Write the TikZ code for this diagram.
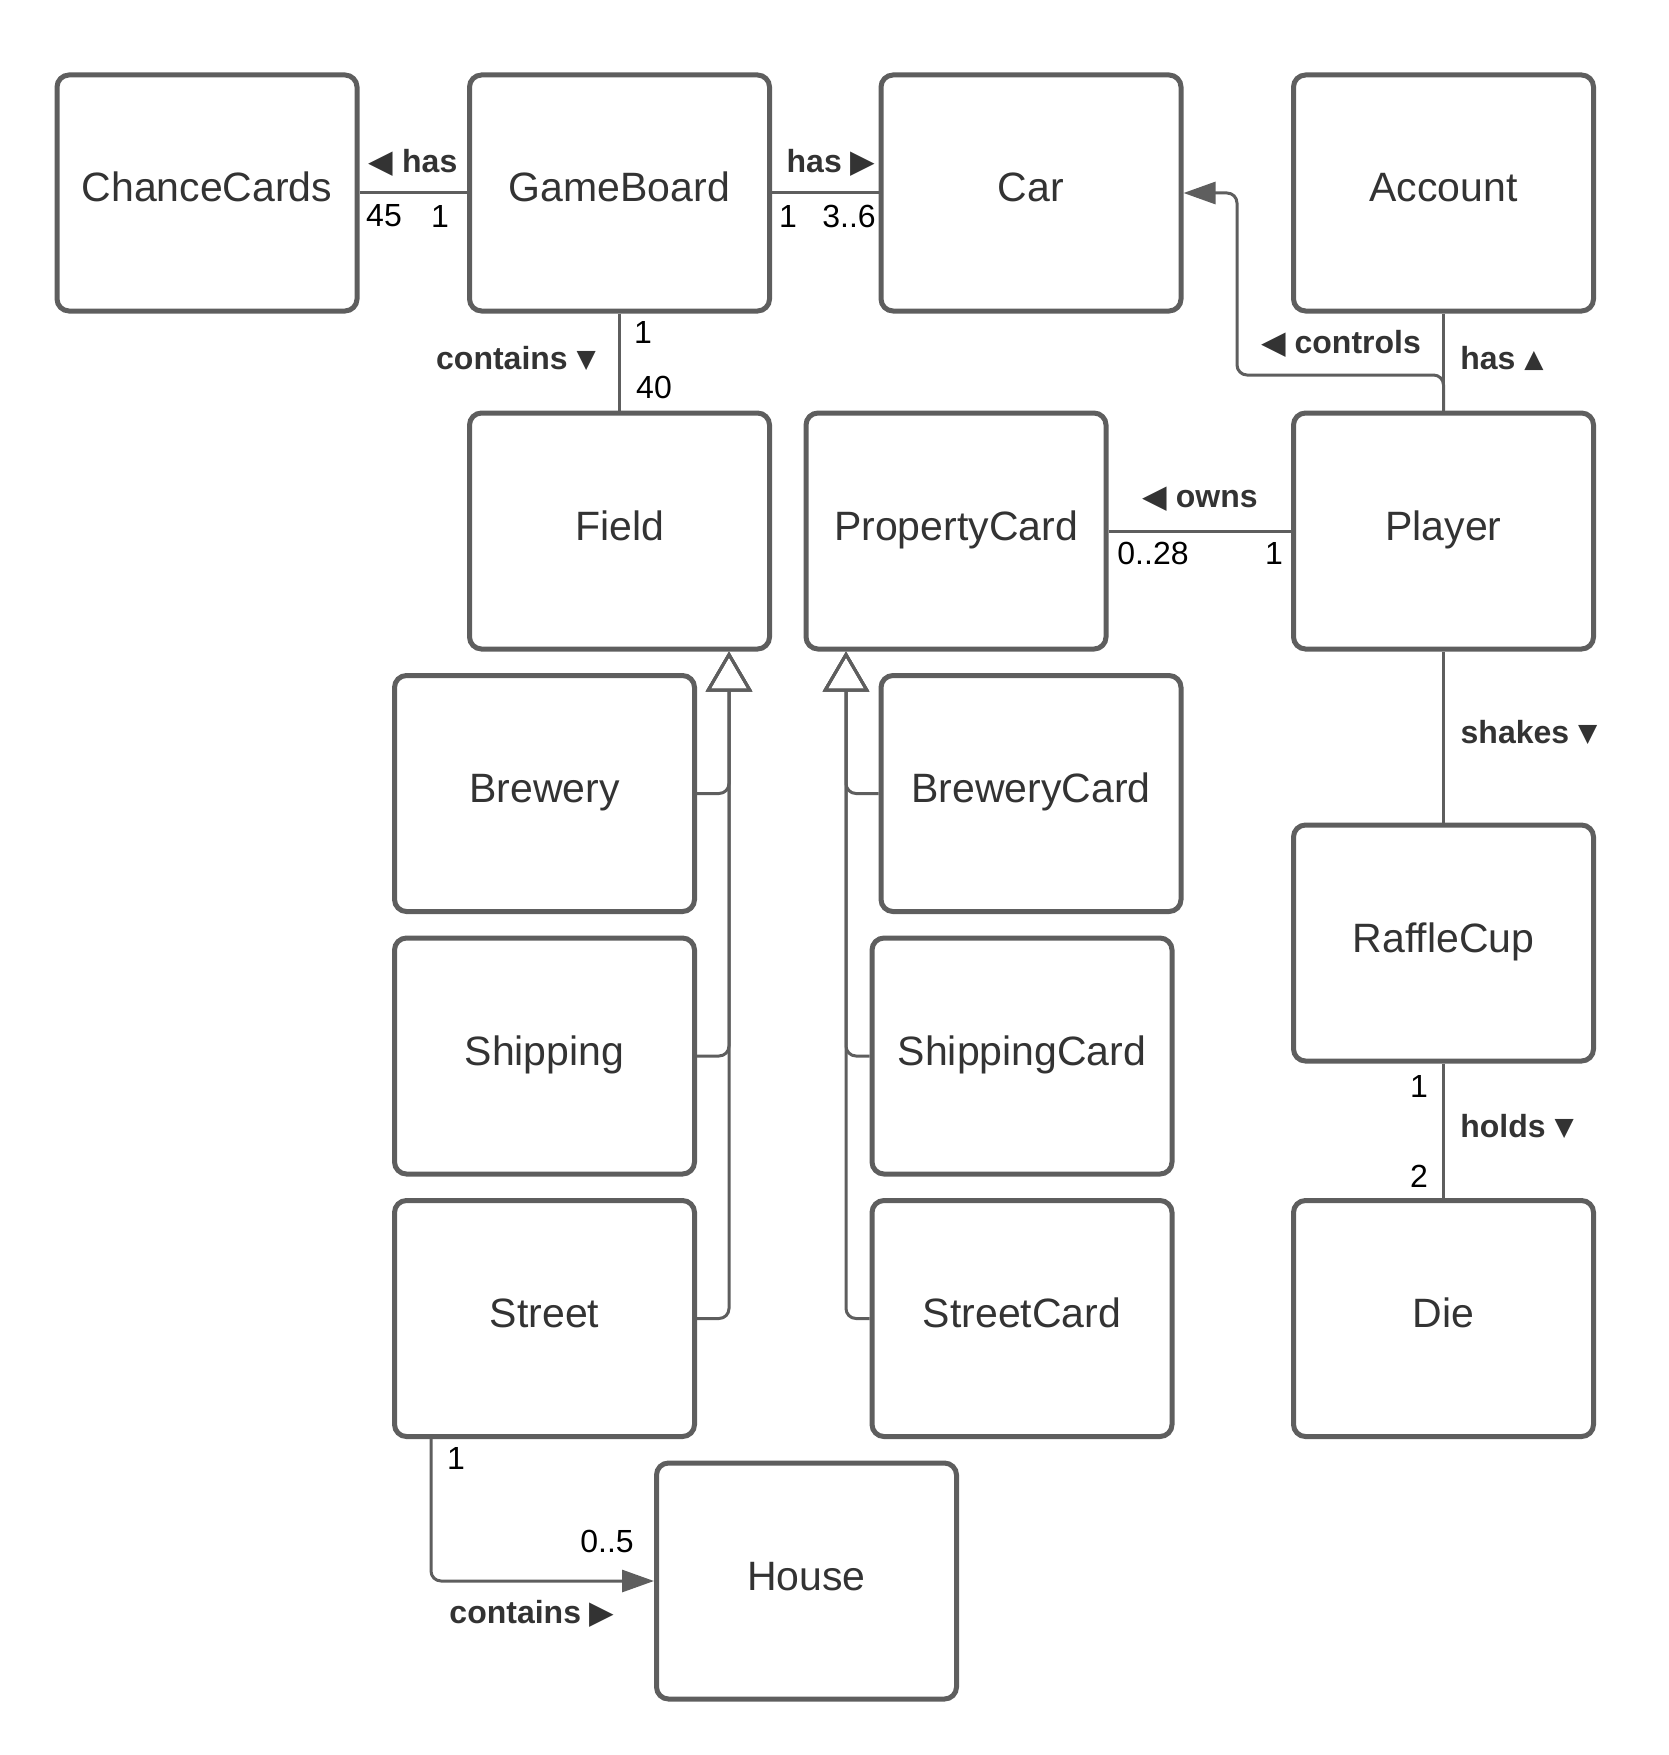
\documentclass[tikz,border=0pt]{standalone}
\usepackage{fontspec}
\setmainfont{Liberation Sans}
\newfontfamily\symfont{DejaVu Sans}
\usetikzlibrary{arrows.meta}
\definecolor{rahmen}{HTML}{5E5E5E}
\definecolor{schrift}{HTML}{333333}
\newcommand{\links}{{\symfont ◀}}
\newcommand{\rechts}{{\symfont ▶}}
\newcommand{\hoch}{\raisebox{1pt}{\symfont\fontsize{12.5}{12.5}\selectfont ▲}}
\newcommand{\runter}{\raisebox{1pt}{\symfont\fontsize{12.5}{12.5}\selectfont ▼}}

\begin{document}
\begin{tikzpicture}[x=0.5pt,y=-0.5pt,
	klasse/.style={draw=rahmen,line width=2.5pt,rounded corners=6pt,minimum width=150pt,minimum height=118pt,text height=16pt,text depth=7pt,text=schrift,font=\fontsize{20.5}{24}\selectfont},
	assoz/.style={draw=rahmen,line width=1.5pt},
	pfeil/.style={assoz,rounded corners=5pt,-{Triangle[length=16pt,width=11pt]}},
	erbt/.style={assoz,rounded corners=5pt,-{Triangle[open,length=20pt,width=23pt]}},
	rolle/.style={text=schrift,font=\fontsize{16}{19}\selectfont\bfseries,inner sep=0pt},
	zahl/.style={text=black,font=\fontsize{16}{19}\selectfont,inner sep=0pt}]
	\useasboundingbox (0,0) rectangle (1669,1755);

	\node[klasse] (chance) at (207,193) {ChanceCards};%obere Reihe
	\node[klasse] (board) at (619.5,193) {GameBoard};
	\node[klasse] (car) at (1031,193) {Car};
	\node[klasse] (account) at (1443.5,193) {Account};
	\node[klasse] (field) at (619.5,531) {Field};%zweite Reihe
	\node[klasse] (propcard) at (956,531) {PropertyCard};
	\node[klasse] (player) at (1443.5,531) {Player};
	\node[klasse] (brewery) at (544.5,793.5) {Brewery};%Unterklassen
	\node[klasse] (shipping) at (544.5,1056) {Shipping};
	\node[klasse] (street) at (544.5,1318.5) {Street};
	\node[klasse] (brewcard) at (1031,793.5) {BreweryCard};
	\node[klasse] (shipcard) at (1022,1056) {ShippingCard};
	\node[klasse] (streetcard) at (1022,1318.5) {StreetCard};
	\node[klasse] (raffle) at (1443.5,943) {RaffleCup};
	\node[klasse] (die) at (1443.5,1318.5) {Die};
	\node[klasse] (house) at (806.5,1581) {House};

	\draw[assoz] (chance) -- (board);
	\draw[assoz] (board) -- (car);
	\draw[assoz] (board) -- (field);
	\draw[assoz] (account) -- (player);
	\draw[assoz] (propcard) -- (player);
	\draw[assoz] (player) -- (raffle);
	\draw[assoz] (raffle) -- (die);
	\coordinate (knick) at (1237,375);
	\draw[pfeil] (player.north) |- (knick) |- (car.east);%controls
	\draw[pfeil] ([xshift=-56.75pt]street.south) |- (house.west);%contains
	\foreach \k in {brewery,shipping,street}
		\draw[erbt] (\k.east) -| ([xshift=54.75pt]field.south);
	\foreach \k in {brewcard,shipcard,streetcard}
		\draw[erbt] (\k.west) -| ([xshift=-55pt]propcard.south);

	\node[rolle] (hasL) at (413,162.5) {\links{} has};
	\node[zahl] (m45) at (384,216) {45};
	\node[zahl] (m1a) at (440,216) {1};
	\node[rolle] (hasR) at (831,162.5) {has \rechts};
	\node[zahl] (m1b) at (788,216) {1};
	\node[zahl] (m36) at (849,216) {3..6};
	\node[rolle] (contF) at (516,358.5) {contains \runter};
	\node[zahl] (m1c) at (643,332.5) {1};
	\node[zahl] (m40) at (654,387.5) {40};
	\node[rolle] (ctrl) at (1341,344) {\links{} controls};
	\node[rolle] (hasA) at (1502,358.5) {has \hoch};
	\node[rolle] (owns) at (1200,499.5) {\links{} owns};
	\node[zahl] (m028) at (1153,553.5) {0..28};
	\node[zahl] (m1d) at (1274,553.5) {1};
	\node[rolle] (shakes) at (1529,732.5) {shakes \runter};
	\node[zahl] (m1e) at (1419,1086.5) {1};
	\node[rolle] (holds) at (1517,1126.5) {holds \runter};
	\node[zahl] (m2) at (1419,1176) {2};
	\node[zahl] (m1f) at (456,1458) {1};
	\node[zahl] (m05) at (607,1541) {0..5};
	\node[rolle] (contH) at (532,1614) {contains \rechts};
\end{tikzpicture}
\end{document}
